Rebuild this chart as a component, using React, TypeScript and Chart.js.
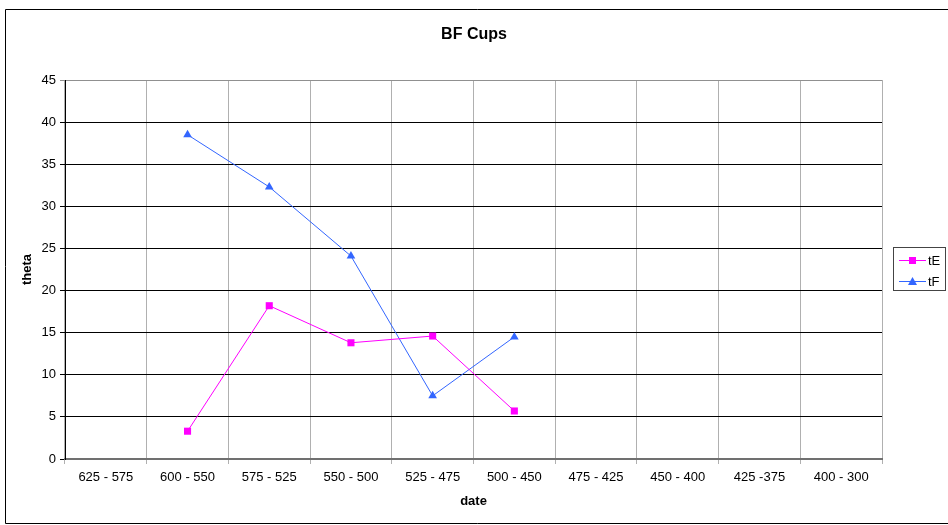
import React, { useEffect, useRef } from "react";
import { Chart, registerables } from "chart.js";

Chart.register(...registerables);

const categories = [
  "625 - 575",
  "600 - 550",
  "575 - 525",
  "550 - 500",
  "525 - 475",
  "500 - 450",
  "475 - 425",
  "450 - 400",
  "425 -375",
  "400 - 300",
];
const tE = [null, 3.3, 18.2, 13.8, 14.6, 5.7, null, null, null, null];
const tF = [null, 38.5, 32.3, 24.1, 7.5, 14.5, null, null, null, null];
const yTicksMax = 45;
const yStep = 5;

const FONT = "'Liberation Sans', Arial, sans-serif";

const framePlugin = {
  id: "frame",
  beforeDraw(chart: any) {
    const ctx = chart.ctx;
    ctx.save();
    ctx.fillStyle = "#fff";
    ctx.fillRect(0, 0, chart.width, chart.height);
    ctx.strokeStyle = "#000";
    ctx.lineWidth = 1;
    ctx.beginPath();
    ctx.moveTo(chart.width + 5, 9.5);
    ctx.lineTo(5.5, 9.5);
    ctx.lineTo(5.5, 523.5);
    ctx.lineTo(chart.width + 5, 523.5);
    ctx.stroke();
    ctx.restore();
  },
  afterDraw(chart: any) {
    const ctx = chart.ctx;
    ctx.save();
    ctx.strokeStyle = "#444";
    ctx.lineWidth = 1;
    ctx.strokeRect(893.5, 247.5, 52, 43);
    const items = chart.data.datasets;
    items.forEach((ds: any, i: number) => {
      const y = 260 + i * 21;
      ctx.strokeStyle = ds.borderColor;
      ctx.lineWidth = 1;
      ctx.beginPath();
      ctx.moveTo(899, y + 0.5);
      ctx.lineTo(926, y + 0.5);
      ctx.stroke();
      ctx.fillStyle = ds.backgroundColor;
      if (ds.pointStyle === "rect") {
        ctx.fillRect(909, y - 3, 7, 7);
      } else {
        ctx.beginPath();
        ctx.moveTo(912.5, y - 4);
        ctx.lineTo(917, y + 4);
        ctx.lineTo(908, y + 4);
        ctx.closePath();
        ctx.fill();
      }
      ctx.fillStyle = "#000";
      ctx.font = `13px ${FONT}`;
      ctx.textBaseline = "middle";
      ctx.textAlign = "left";
      ctx.fillText(ds.label, 928, y + 1);
    });
    ctx.restore();
  },
};

export default function App() {
  const ref = useRef<HTMLCanvasElement | null>(null);
  useEffect(() => {
    if (!ref.current) return;
    const chart = new Chart(ref.current, {
      type: "line",
      data: {
        labels: categories,
        datasets: [
          {
            label: "tE",
            data: tE,
            borderColor: "#FF00FF",
            backgroundColor: "#FF00FF",
            borderWidth: 1,
            pointStyle: "rect",
            pointRadius: 5,
            pointBorderWidth: 0,
            spanGaps: false,
          },
          {
            label: "tF",
            data: tF,
            borderColor: "#3366FF",
            backgroundColor: "#3366FF",
            borderWidth: 1,
            pointStyle: "triangle",
            pointRadius: 5,
            pointBorderWidth: 0,
            spanGaps: false,
          },
        ],
      },
      plugins: [framePlugin],
      options: {
        responsive: false,
        animation: false,
        layout: { padding: { left: 0, right: 0, top: 0, bottom: 0 } },
        plugins: {
          legend: { display: false },
          tooltip: { enabled: false },
          title: {
            display: true,
            text: "BF Cups",
            color: "#000",
            font: { family: FONT, size: 16, weight: "bold" },
            padding: { top: 25.4, bottom: 35.4 },
          },
        },
        scales: {
          x: {
            offset: true,
            grid: {
              offset: true,
              color: "#b0b0b0",
              lineWidth: 1,
              tickLength: 5,
              drawTicks: true,
            },
            border: { color: "#707070", width: 2 },
            ticks: {
              color: "#000",
              font: { family: FONT, size: 13 },
              padding: 6,
              maxRotation: 0,
              autoSkip: false,
            },
            title: {
              display: true,
              text: "date",
              color: "#000",
              font: { family: FONT, size: 13, weight: "bold" },
              padding: { top: 0, bottom: 16.2 },
            },
            afterFit(scale: any) {
              scale.height = 66;
            },
          },
          y: {
            min: 0,
            max: yTicksMax,
            ticks: {
              stepSize: yStep,
              color: "#000",
              font: { family: FONT, size: 13 },
              padding: 4,
            },
            grid: {
              color: (c: any) =>
                c.tick && c.tick.value === yTicksMax ? "#909090" : "#000",
              lineWidth: 1,
              tickLength: 5,
            },
            border: { color: "#000", width: 1 },
            title: {
              display: true,
              text: "theta",
              color: "#000",
              font: { family: FONT, size: 13, weight: "bold" },
              padding: { top: 19.2, bottom: 0 },
            },
            afterFit(scale: any) {
              scale.width = 65;
            },
          },
          legendSpace: {
            type: "linear",
            position: "right",
            display: true,
            ticks: { display: false },
            grid: { display: false, drawTicks: false },
            border: { display: false },
            afterFit(scale: any) {
              scale.width = 66;
            },
          },
        },
      },
    });
    return () => chart.destroy();
  }, []);
  return (
    <canvas
      ref={ref}
      width={948}
      height={525}
      style={{ position: "fixed", left: 0, top: 0, width: 948, height: 525 }}
    />
  );
}
